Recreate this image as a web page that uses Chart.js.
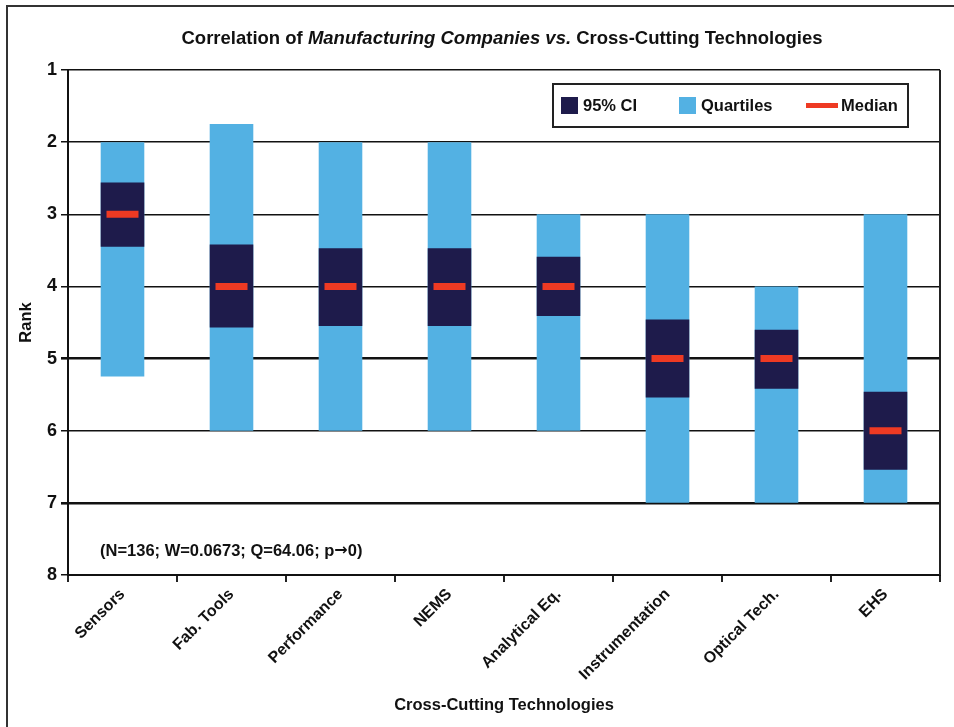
<!DOCTYPE html>
<html>
<head>
<meta charset="utf-8">
<script src="https://cdn.jsdelivr.net/npm/chart.js@4.4.0/dist/chart.umd.min.js"></script>
<style>
  html, body { margin: 0; padding: 0; background: #fff; }
  #wrap { width: 954px; height: 727px; }
</style>
</head>
<body>
<div id="wrap"><canvas id="rankChart" width="954" height="727"></canvas></div>
<script>
// ========== DADOS ==========
const categorias = ['Sensors', 'Fab. Tools', 'Performance', 'NEMS', 'Analytical Eq.', 'Instrumentation', 'Optical Tech.', 'EHS'];
const quartilInf = [2, 1.75, 2, 2, 3, 3, 4, 3];
const quartilSup = [5.25, 6, 6, 6, 6, 7, 7, 7];
const icInf = [2.56, 3.42, 3.47, 3.47, 3.59, 4.46, 4.60, 5.46];
const icSup = [3.45, 4.57, 4.55, 4.55, 4.41, 5.54, 5.42, 6.54];
const mediana = [3, 4, 4, 4, 4, 5, 5, 6];
const rankTicks = [1, 2, 3, 4, 5, 6, 7, 8];
const notaPartes = ['(N=136; W=0.0673; Q=64.06; p', '\u2192', '0)'];

const FONTE = '"Liberation Sans", Arial, sans-serif';
const COR_QUARTIL = '#53b1e3';
const COR_IC = '#1e1b4b';
const COR_MEDIANA = '#ee3a23';

// título com partes em itálico, moldura, nota e legenda
const extrasPlugin = {
    id: 'extras',
    afterDraw(chart) {
        const ctx = chart.ctx;
        const area = chart.chartArea;
        ctx.save();

        // moldura externa
        ctx.strokeStyle = '#333';
        ctx.lineWidth = 2;
        ctx.strokeRect(7, 6, 980, 760);

        // borda direita do gráfico
        ctx.strokeStyle = '#222';
        ctx.lineWidth = 2;
        ctx.beginPath();
        ctx.moveTo(area.right, area.top);
        ctx.lineTo(area.right, area.bottom);
        ctx.stroke();

        // título
        const partes = [
            ['Correlation of ', false],
            ['Manufacturing Companies vs.', true],
            [' Cross-Cutting Technologies', false]
        ];
        ctx.fillStyle = '#111';
        ctx.textBaseline = 'middle';
        ctx.textAlign = 'left';
        let total = 0;
        partes.forEach(p => {
            ctx.font = (p[1] ? 'italic ' : '') + 'bold 18.5px ' + FONTE;
            total += ctx.measureText(p[0]).width;
        });
        let x = 502 - total / 2;
        partes.forEach(p => {
            ctx.font = (p[1] ? 'italic ' : '') + 'bold 18.5px ' + FONTE;
            ctx.fillText(p[0], x, 39);
            x += ctx.measureText(p[0]).width;
        });

        // nota estatística
        let xn = 100;
        notaPartes.forEach((t, i) => {
            ctx.font = i === 1 ? 'bold 16px "DejaVu Sans", sans-serif' : 'bold 16.5px ' + FONTE;
            ctx.fillText(t, xn, 551);
            xn += ctx.measureText(t).width;
        });

        // legenda
        ctx.fillStyle = '#fff';
        ctx.fillRect(553, 84, 355, 43);
        ctx.strokeStyle = '#222';
        ctx.lineWidth = 2;
        ctx.strokeRect(553, 84, 355, 43);
        ctx.font = 'bold 16.5px ' + FONTE;
        const ds = chart.data.datasets;
        const itens = [
            { ds: ds[1], x: 561, tipo: 'caixa' },
            { ds: ds[2], x: 679, tipo: 'caixa' },
            { ds: ds[0], x: 806, tipo: 'linha' }
        ];
        itens.forEach(it => {
            if (it.tipo === 'caixa') {
                ctx.fillStyle = it.ds.backgroundColor;
                ctx.fillRect(it.x, 97, 17, 17);
                ctx.fillStyle = '#111';
                ctx.fillText(it.ds.label, it.x + 22, 106);
            } else {
                ctx.fillStyle = it.ds.borderColor;
                ctx.fillRect(it.x, 103, 32, 5);
                ctx.fillStyle = '#111';
                ctx.fillText(it.ds.label, it.x + 35, 106);
            }
        });
        ctx.restore();
    }
};

const ctxRank = document.getElementById('rankChart');
const rankChart = new Chart(ctxRank.getContext('2d'), {
    type: 'bar',
    data: {
        labels: categorias,
        datasets: [
            {
                type: 'line',
                label: 'Median',
                data: mediana,
                showLine: false,
                pointStyle: 'line',
                pointRadius: 16,
                pointHoverRadius: 16,
                borderColor: COR_MEDIANA,
                borderWidth: 7,
                order: 0
            },
            {
                label: '95% CI',
                data: categorias.map((c, i) => [icInf[i], icSup[i]]),
                backgroundColor: COR_IC,
                grouped: false,
                barPercentage: 0.4,
                categoryPercentage: 1,
                order: 1
            },
            {
                label: 'Quartiles',
                data: categorias.map((c, i) => [quartilInf[i], quartilSup[i]]),
                backgroundColor: COR_QUARTIL,
                grouped: false,
                barPercentage: 0.4,
                categoryPercentage: 1,
                order: 2
            }
        ]
    },
    options: {
        responsive: false,
        animation: false,
        devicePixelRatio: 1,
        layout: { autoPadding: false, padding: { top: 70, right: 14, left: 0, bottom: 0 } },
        plugins: {
            legend: { display: false },
            title: { display: false },
            tooltip: { enabled: false }
        },
        scales: {
            x: {
                offset: true,
                grid: {
                    display: true,
                    drawOnChartArea: false,
                    offset: true,
                    tickLength: 7,
                    color: '#222',
                    lineWidth: 2
                },
                border: { color: '#111', width: 2 },
                ticks: {
                    minRotation: 45,
                    maxRotation: 45,
                    color: '#111',
                    font: { family: FONTE, size: 16, weight: 'bold' },
                    padding: 3
                },
                title: {
                    display: true,
                    text: 'Cross-Cutting Technologies',
                    color: '#111',
                    font: { family: FONTE, size: 16.5, weight: 'bold' },
                    padding: { top: 0, bottom: 12 }
                },
                afterFit: function(scale) {
                    scale.height = 152;
                    scale.paddingLeft = 0;
                    scale.paddingRight = 0;
                }
            },
            y: {
                reverse: true,
                min: 1,
                max: 8,
                afterBuildTicks: function(scale) {
                    scale.ticks = rankTicks.map(v => ({ value: v }));
                },
                grid: {
                    color: '#111',
                    tickColor: '#111',
                    tickLength: 7,
                    lineWidth: function(c) {
                        const v = c.tick && c.tick.value;
                        return (v === 5 || v === 7) ? 2.6 : 1.5;
                    }
                },
                border: { color: '#111', width: 2 },
                ticks: {
                    color: '#111',
                    padding: 4,
                    font: { family: FONTE, size: 18, weight: 'bold' }
                },
                title: {
                    display: true,
                    text: 'Rank',
                    color: '#111',
                    font: { family: FONTE, size: 16.5, weight: 'bold' },
                    padding: { top: 17, bottom: 0 }
                },
                afterFit: function(scale) { scale.width = 68; }
            }
        }
    },
    plugins: [extrasPlugin]
});
</script>
</body>
</html>
